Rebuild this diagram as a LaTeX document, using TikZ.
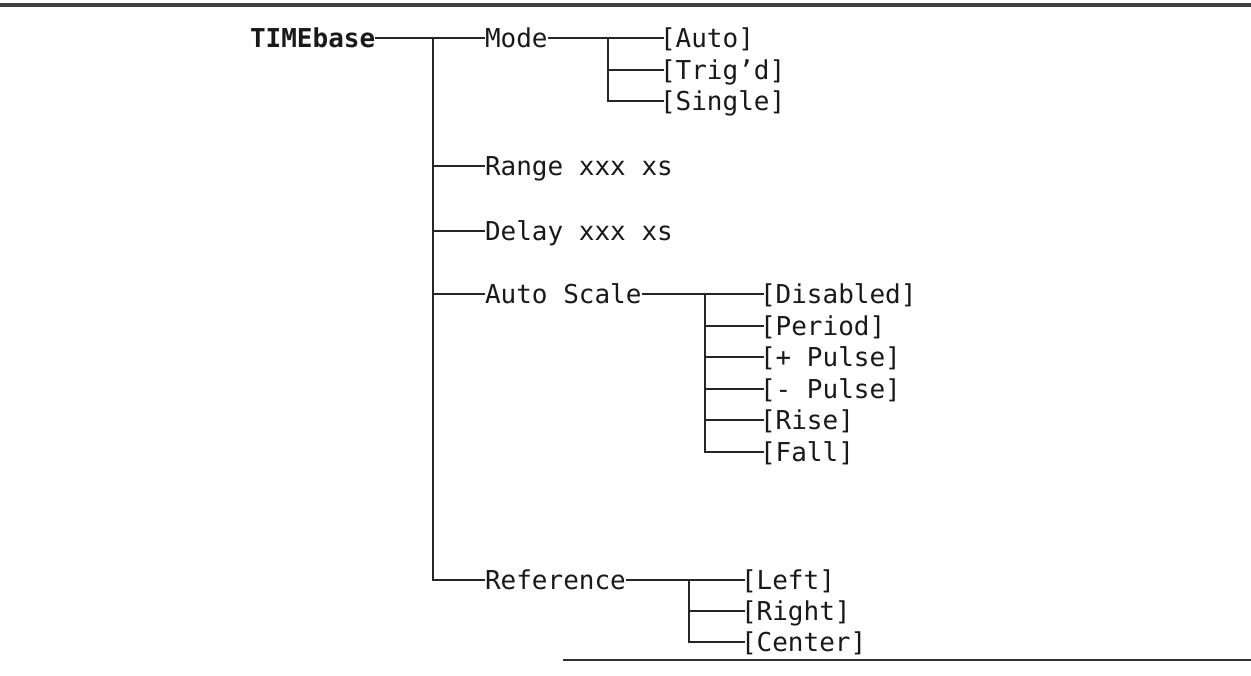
\documentclass[tikz,border=0pt]{standalone}
\usepackage{fontspec}
\setmonofont{DejaVu Sans Mono}
\begin{document}
\begin{tikzpicture}[x=0.5pt,y=-0.5pt,
	menu/.style={anchor=west,inner sep=0pt,outer sep=0pt,text=black!90,
		font=\ttfamily\fontsize{13}{15}\selectfont,text height=9.5pt,text depth=0pt},
	root/.style={menu,font=\ttfamily\bfseries\fontsize{13}{15}\selectfont},
	opt/.style={menu,inner xsep=-2pt},
	wire/.style={line width=0.85pt,black!85}]
	\useasboundingbox (0,0) rectangle (1251,675);
	% page rules
	\draw[line width=1.6pt,black!75] (0,5) -- (1251,5);
	\draw[line width=1.2pt,black!80] (563,660) -- (1251,660);
	% menu items
	\node[root] (time)   at (250,38)  {TIMEbase};
	\node[menu] (mode)   at (485,38)  {Mode};
	\node[menu] (range)  at (485,166) {Range xxx xs};
	\node[menu] (delay)  at (485,231) {Delay xxx xs};
	\node[menu] (scale)  at (485,294) {Auto Scale};
	\node[menu] (refer)  at (485,580) {Reference};
	% choices
	\node[opt] (auto)    at (664,38)  {[Auto]};
	\node[opt] (trig)    at (664,70)  {[Trig’d]};
	\node[opt] (single)  at (664,101) {[Single]};
	\node[opt] (disab)   at (764,294) {[Disabled]};
	\node[opt] (period)  at (764,326) {[Period]};
	\node[opt] (ppulse)  at (764,357) {[+ Pulse]};
	\node[opt] (npulse)  at (764,389) {[- Pulse]};
	\node[opt] (rise)    at (764,420) {[Rise]};
	\node[opt] (fall)    at (764,452) {[Fall]};
	\node[opt] (left)    at (745,580) {[Left]};
	\node[opt] (right)   at (745,611) {[Right]};
	\node[opt] (center)  at (745,642) {[Center]};
	% branch points
	\coordinate (trunk) at (433,38);
	\coordinate (mhub)  at (608,38);
	\coordinate (shub)  at (705,294);
	\coordinate (rhub)  at (689,580);
	% connectors
	\begin{scope}[wire]
	\draw (time.east) -- (mode.west);
	\foreach \n in {range,delay,scale,refer}
		\draw (trunk) |- (\n.west);
	\draw (mode.east) -- (auto.west);
	\foreach \n in {trig,single}
		\draw (mhub) |- (\n.west);
	\draw (scale.east) -- (disab.west);
	\foreach \n in {period,ppulse,npulse,rise,fall}
		\draw (shub) |- (\n.west);
	\draw (refer.east) -- (left.west);
	\foreach \n in {right,center}
		\draw (rhub) |- (\n.west);
	\end{scope}
\end{tikzpicture}
\end{document}
